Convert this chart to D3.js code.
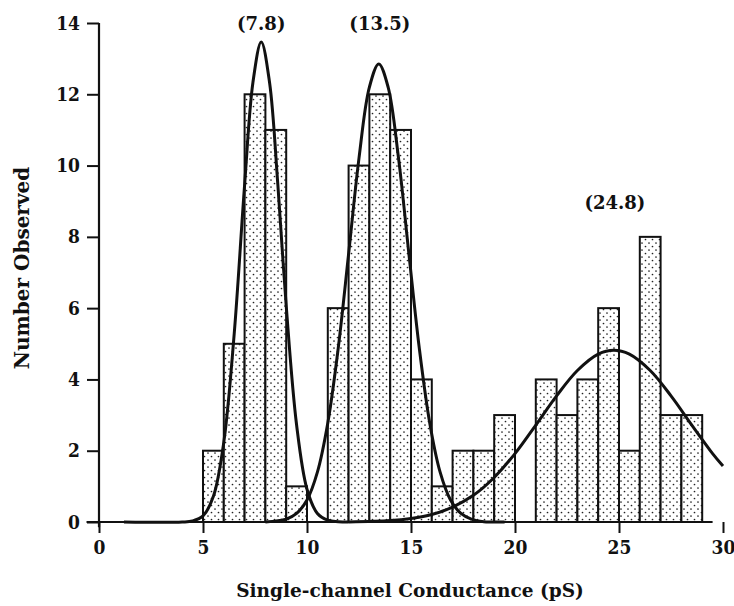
<html>
<head>
<script src="https://d3js.org/d3.v7.min.js"></script>
<style>
  body { margin: 0; background: #fff; }
  text { font-family: "DejaVu Serif", "Liberation Serif", serif; font-weight: bold; fill: #111; }
  .tick text { font-family: "DejaVu Serif Condensed", "Liberation Serif", serif; font-size: 19px; }
  .axis-title { font-size: 18.5px; }
  .y-title { font-size: 20px; }
  .peak-label { font-size: 18px; }
</style>
</head>
<body>
<div id="chart"></div>
<script>
// histogram bins (left edge, pS) and counts
const binStart = [5, 6, 7, 8, 9, 11, 12, 13, 14, 15, 16, 17, 18, 19, 21, 22, 23, 24, 25, 26, 27, 28];
const counts   = [2, 5, 12, 11, 1, 6, 10, 12, 11, 4, 1, 2, 2, 3, 4, 3, 4, 6, 2, 8, 3, 3];
const binWidth = 1;

// fitted curves, points
const curve1X = [1.2, 4, 4.5, 5, 5.5, 6, 6.5, 7, 7.4, 7.8, 8.2, 8.6, 9, 9.5, 10, 10.5, 11, 11.5, 12];
const curve1Y = [0, 0, 0.03, 0.17, 0.72, 2.24, 5.28, 9.45, 12.33, 13.47, 12.33, 9.45, 6.07, 2.72, 0.92, 0.24, 0.05, 0.01, 0];
const curve2X = [8, 9, 9.5, 10, 10.5, 11, 11.5, 12, 12.5, 13, 13.45, 13.9, 14.4, 14.9, 15.4, 15.9, 16.4, 16.9, 17.4, 17.9, 18.5, 19.5];
const curve2Y = [0, 0.08, 0.24, 0.62, 1.4, 2.78, 4.87, 7.52, 10.21, 12.2, 12.85, 12.2, 10.21, 7.52, 4.87, 2.78, 1.4, 0.62, 0.24, 0.08, 0.01, 0];
const curve3X = [12, 14, 15, 16, 17, 18, 19, 20, 21, 22, 23, 24, 24.75, 25.5, 26.5, 27.5, 28.5, 29.5, 30];
const curve3Y = [0, 0.04, 0.1, 0.21, 0.42, 0.75, 1.25, 1.92, 2.72, 3.54, 4.25, 4.71, 4.82, 4.71, 4.25, 3.54, 2.72, 1.92, 1.57];

// peak labels
const peakLabels = ["(7.8)", "(13.5)", "(24.8)"];
const peakLabelX = [7.8, 13.5, 24.8];
const peakLabelY = [13.8, 13.8, 8.78];

const xTicks = [0, 5, 10, 15, 20, 25, 30];
const yTicks = [0, 2, 4, 6, 8, 10, 12, 14];

const svg = d3.select("#chart").append("svg")
  .attr("width", 734)
  .attr("height", 606);

const margin = { top: 23, right: 11, bottom: 84, left: 99 };
const width = 734 - margin.left - margin.right;
const height = 606 - margin.top - margin.bottom;

const x = d3.scaleLinear().domain([0, 30]).range([margin.left, margin.left + width]);
const y = d3.scaleLinear().domain([0, 14]).range([margin.top + height, margin.top]);

// stipple fill
const defs = svg.append("defs");
const pat = defs.append("pattern")
  .attr("id", "dots")
  .attr("patternUnits", "userSpaceOnUse")
  .attr("width", 7)
  .attr("height", 7);
pat.append("rect").attr("width", 7).attr("height", 7).attr("fill", "#fff");
pat.append("circle").attr("cx", 1.5).attr("cy", 1.5).attr("r", 0.85).attr("fill", "#222");
pat.append("circle").attr("cx", 5).attr("cy", 5).attr("r", 0.85).attr("fill", "#222");

// bars
svg.append("g").selectAll("rect")
  .data(binStart)
  .join("rect")
  .attr("x", (d) => x(d))
  .attr("y", (d, i) => y(counts[i]))
  .attr("width", (d) => x(d + binWidth) - x(d))
  .attr("height", (d, i) => y(0) - y(counts[i]))
  .attr("fill", "url(#dots)")
  .attr("stroke", "#111")
  .attr("stroke-width", 2);

// axes
const xAxis = svg.append("g")
  .attr("transform", `translate(0,${y(0)})`)
  .call(d3.axisBottom(x).tickValues(xTicks).tickFormat(d3.format("d")).tickSize(11).tickPadding(8).tickSizeOuter(0));
xAxis.select(".domain").remove();
xAxis.selectAll(".tick line").attr("stroke", "#111").attr("stroke-width", 2);
xAxis.append("line")
  .attr("x1", x(-0.6)).attr("x2", x(29.5))
  .attr("stroke", "#111").attr("stroke-width", 2.2);

const yAxis = svg.append("g")
  .attr("transform", `translate(${x(0)},0)`)
  .call(d3.axisLeft(y).tickValues(yTicks).tickFormat(d3.format("d")).tickSize(12).tickPadding(7).tickSizeOuter(0));
yAxis.select(".domain").remove();
yAxis.selectAll(".tick line").attr("stroke", "#111").attr("stroke-width", 2);
yAxis.append("line")
  .attr("y1", y(14)).attr("y2", y(-0.15))
  .attr("stroke", "#111").attr("stroke-width", 2.2);

// fitted curves
const line = d3.line()
  .x((d) => x(d[0]))
  .y((d) => y(d[1]))
  .curve(d3.curveCatmullRom.alpha(0.5));

[[curve1X, curve1Y], [curve2X, curve2Y], [curve3X, curve3Y]].forEach(([xs, ys]) => {
  svg.append("path")
    .datum(xs.map((v, i) => [v, ys[i]]))
    .attr("d", line)
    .attr("fill", "none")
    .attr("stroke", "#111")
    .attr("stroke-width", 3)
    .attr("stroke-linejoin", "round");
});

// peak labels
svg.append("g").selectAll("text")
  .data(peakLabels)
  .join("text")
  .attr("class", "peak-label")
  .attr("x", (d, i) => x(peakLabelX[i]))
  .attr("y", (d, i) => y(peakLabelY[i]))
  .attr("text-anchor", "middle")
  .text((d) => d);

// axis titles
svg.append("text")
  .attr("class", "axis-title")
  .attr("x", 410)
  .attr("y", 597)
  .attr("text-anchor", "middle")
  .text("Single-channel Conductance (pS)");

svg.append("text")
  .attr("class", "y-title")
  .attr("transform", "translate(29,268) rotate(-90)")
  .attr("text-anchor", "middle")
  .text("Number Observed");
</script>
</body>
</html>
